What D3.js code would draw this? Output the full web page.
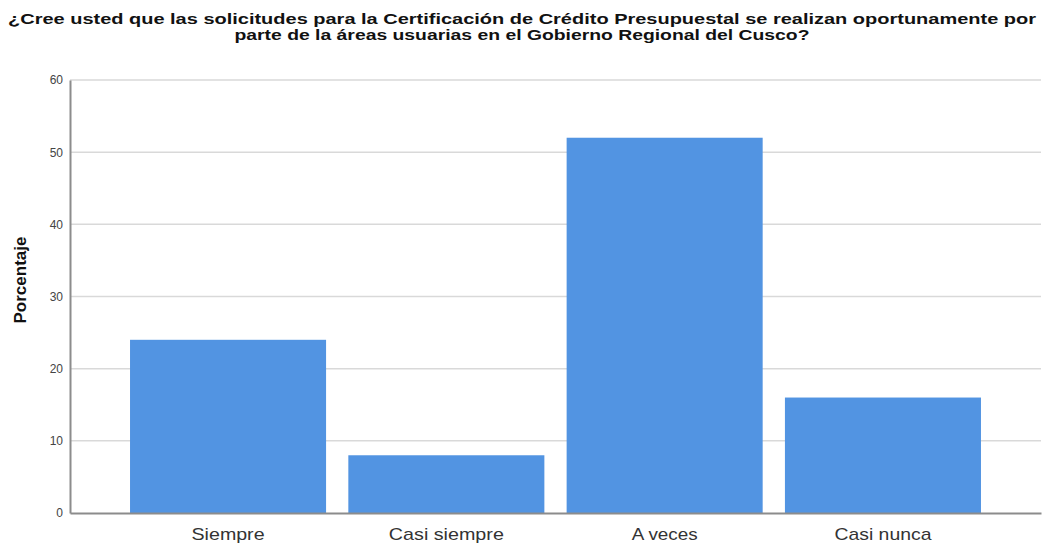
<!DOCTYPE html>
<html><head><meta charset="utf-8">
<script src="https://cdn.jsdelivr.net/npm/d3@7"></script>
<style>body{margin:0;background:#fff}svg{display:block}</style>
</head><body>
<script>
const categories = ["Siempre", "Casi siempre", "A veces", "Casi nunca"];
const values = [24, 8, 52, 16];
const yTicks = [0, 10, 20, 30, 40, 50, 60];
const titleLines = ["¿Cree usted que las solicitudes para la Certificación de Crédito Presupuestal se realizan oportunamente por",
                    "parte de la áreas usuarias en el Gobierno Regional del Cusco?"];
const yLabel = "Porcentaje";

const W = 1043, H = 545;
const m = {left: 70, right: 2, top: 80, bottom: 32};
const svg = d3.select("body").append("svg").attr("width", W).attr("height", H);
const FONT = "Arial, 'Liberation Sans', sans-serif";

const x = d3.scaleBand().domain(categories).range([m.left, W - m.right]).paddingInner(0.102).paddingOuter(0.275);
const y = d3.scaleLinear().domain([0, 60]).range([H - m.bottom, m.top]);

// gridlines
svg.append("g").selectAll("line").data(yTicks.filter(d => d > 0)).join("line")
  .attr("x1", m.left).attr("x2", W - m.right)
  .attr("y1", d => y(d)).attr("y2", d => y(d))
  .attr("stroke", "#d9d9d9").attr("stroke-width", 1.5);

// bars
svg.append("g").selectAll("rect").data(values).join("rect")
  .attr("x", (d, i) => x(categories[i]))
  .attr("width", x.bandwidth())
  .attr("y", d => y(d))
  .attr("height", d => y(0) - y(d))
  .attr("fill", "#5294e2");

// y axis
const ya = svg.append("g").attr("transform", `translate(${m.left},0)`)
  .call(d3.axisLeft(y).tickValues(yTicks).tickSize(0).tickPadding(7));
ya.select(".domain").attr("stroke", "#8c8c8c").attr("stroke-width", 2);
ya.selectAll("text").attr("font-family", FONT).attr("font-size", 12).attr("fill", "#444");

// x axis
const labelW = {"Siempre": 73, "Casi siempre": 115, "A veces": 66, "Casi nunca": 97};
const xa = svg.append("g").attr("transform", `translate(0,${y(0)})`)
  .call(d3.axisBottom(x).tickSize(0).tickPadding(12));
xa.select(".domain").attr("stroke", "#8c8c8c").attr("stroke-width", 2);
xa.selectAll("text").attr("font-family", FONT).attr("font-size", 17).attr("fill", "#333")
  .attr("dy", null).attr("y", 27)
  .attr("textLength", d => labelW[d]).attr("lengthAdjust", "spacingAndGlyphs");

// title
svg.append("g").selectAll("text").data(titleLines).join("text")
  .attr("x", 522).attr("y", (d, i) => 24 + i * 16)
  .attr("text-anchor", "middle")
  .attr("font-family", FONT)
  .attr("font-weight", "bold").attr("font-size", 15).attr("fill", "#111")
  .attr("textLength", (d, i) => i === 0 ? 1028 : 575)
  .attr("lengthAdjust", "spacingAndGlyphs")
  .text(d => d);

// y label
svg.append("text")
  .attr("transform", `translate(26,280) rotate(-90)`)
  .attr("text-anchor", "middle")
  .attr("font-family", FONT)
  .attr("font-weight", "bold").attr("font-size", 17).attr("fill", "#111")
  .text(yLabel);
</script>
</body></html>
